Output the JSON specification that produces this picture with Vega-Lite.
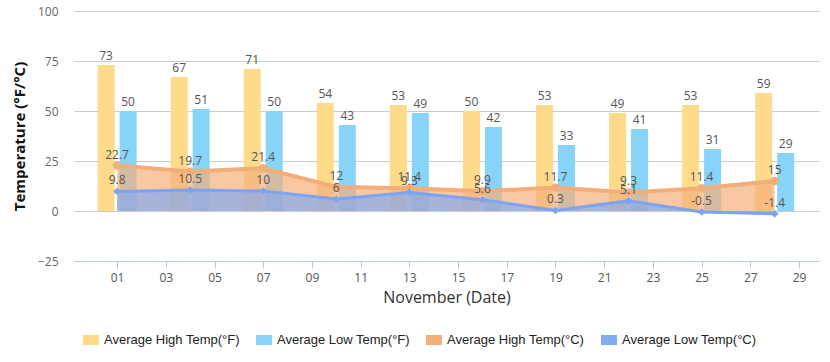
{
  "$schema": "https://vega.github.io/schema/vega-lite/v6.json",
  "autosize": {"type": "none"},
  "padding": {"left": 74, "top": 11, "right": 11, "bottom": 101},
  "width": 745,
  "height": 250,
  "background": "white",
  "config": {
    "view": {"stroke": null},
    "font": "Open Sans",
    "axis": {"labelFont": "Open Sans", "titleFont": "Open Sans"},
    "axisY": {
      "titleFontSize": 15, "titleFontWeight": "bold", "titleColor": "#111", "titlePadding": 10,
      "domain": false, "ticks": false, "gridColor": "#cccccc",
      "labelColor": "#666", "labelFontSize": 12, "labelPadding": 16
    }
  },
  "data": {
    "values": [
      {"day": 1, "highF": 73, "lowF": 50, "highC": 22.7, "lowC": 9.8},
      {"day": 4, "highF": 67, "lowF": 51, "highC": 19.7, "lowC": 10.5},
      {"day": 7, "highF": 71, "lowF": 50, "highC": 21.4, "lowC": 10},
      {"day": 10, "highF": 54, "lowF": 43, "highC": 12, "lowC": 6},
      {"day": 13, "highF": 53, "lowF": 49, "highC": 11.4, "lowC": 9.3},
      {"day": 16, "highF": 50, "lowF": 42, "highC": 9.9, "lowC": 5.6},
      {"day": 19, "highF": 53, "lowF": 33, "highC": 11.7, "lowC": 0.3},
      {"day": 22, "highF": 49, "lowF": 41, "highC": 9.3, "lowC": 5.1},
      {"day": 25, "highF": 53, "lowF": 31, "highC": 11.4, "lowC": -0.5},
      {"day": 28, "highF": 59, "lowF": 29, "highC": 15, "lowC": -1.4}
    ]
  },
  "encoding": {
    "x": {
      "field": "day", "type": "quantitative",
      "scale": {"domain": [-0.77, 29.82], "nice": false, "zero": false, "padding": 0},
      "axis": {
        "title": "November (Date)", "titleFontSize": 16, "titleFontWeight": "normal", "titleColor": "#333", "titlePadding": 6,
        "values": [1,3,5,7,9,11,13,15,17,19,21,23,25,27,29],
        "labelExpr": "datum.value < 10 ? '0' + datum.value : '' + datum.value",
        "grid": false, "domainColor": "#b8c8da", "tickColor": "#b8c8da", "tickSize": 7,
        "labelColor": "#555", "labelFontSize": 12, "labelPadding": 4
      }
    }
  },
  "layer": [
    {
      "mark": {"type": "bar", "width": 17, "xOffset": -11},
      "encoding": {
        "y": {
          "field": "highF", "type": "quantitative", "title": "Temperature (°F/°C)",
          "scale": {"domain": [-25, 100], "nice": false},
          "axis": {"values": [-25, 0, 25, 50, 75, 100]}
        },
        "y2": {"datum": 0},
        "color": {
          "datum": "Average High Temp(°F)",
          "scale": {
            "domain": ["Average High Temp(°F)", "Average Low Temp(°F)", "Average High Temp(°C)", "Average Low Temp(°C)"],
            "range": ["#fddb8b", "#88d3f8", "#f4b07c", "#84aaf0"]
          },
          "legend": {
            "title": null, "orient": "none", "direction": "horizontal", "legendX": 9, "legendY": 321,
            "symbolType": "M-1,-0.625H1V0.625H-1Z", "symbolSize": 256, "symbolStrokeWidth": 0, "symbolOpacity": 1,
            "labelFont": "Liberation Sans", "labelFontSize": 13, "labelColor": "#222", "labelOffset": 5,
            "columnPadding": 16
          }
        }
      }
    },
    {
      "mark": {"type": "bar", "width": 17, "xOffset": 11},
      "encoding": {
        "y": {"field": "lowF", "type": "quantitative", "title": "Temperature (°F/°C)"},
        "y2": {"datum": 0},
        "color": {"datum": "Average Low Temp(°F)"}
      }
    },
    {
      "mark": {"type": "text", "xOffset": -11, "dy": -9, "fontSize": 12, "color": "#555", "font": "Open Sans"},
      "encoding": {
        "y": {"field": "highF", "type": "quantitative", "title": "Temperature (°F/°C)"},
        "text": {"field": "highF"}
      }
    },
    {
      "mark": {"type": "text", "xOffset": 11, "dy": -9, "fontSize": 12, "color": "#555", "font": "Open Sans"},
      "encoding": {
        "y": {"field": "lowF", "type": "quantitative", "title": "Temperature (°F/°C)"},
        "text": {"field": "lowF"}
      }
    },
    {
      "mark": {"type": "area", "fillOpacity": 0.7},
      "encoding": {
        "y": {"field": "highC", "type": "quantitative", "title": "Temperature (°F/°C)"},
        "y2": {"datum": 0},
        "color": {"datum": "Average High Temp(°C)"}
      }
    },
    {
      "mark": {"type": "area", "fillOpacity": 0.7},
      "encoding": {
        "y": {"field": "lowC", "type": "quantitative", "title": "Temperature (°F/°C)"},
        "y2": {"datum": 0},
        "color": {"datum": "Average Low Temp(°C)"}
      }
    },
    {
      "mark": {"type": "line", "color": "#f2ad79", "strokeWidth": 4, "point": {"filled": true, "size": 70, "color": "#f2ad79"}},
      "encoding": {
        "y": {"field": "highC", "type": "quantitative", "title": "Temperature (°F/°C)"}
      }
    },
    {
      "mark": {"type": "line", "color": "#7ca4f0", "strokeWidth": 3, "point": {"filled": true, "shape": "diamond", "size": 60, "color": "#7ca4f0"}},
      "encoding": {
        "y": {"field": "lowC", "type": "quantitative", "title": "Temperature (°F/°C)"}
      }
    },
    {
      "mark": {"type": "text", "dy": -11, "fontSize": 12, "color": "#555", "font": "Open Sans"},
      "encoding": {
        "y": {"field": "highC", "type": "quantitative", "title": "Temperature (°F/°C)"},
        "text": {"field": "highC"}
      }
    },
    {
      "mark": {"type": "text", "dy": -11, "fontSize": 12, "color": "#555", "font": "Open Sans"},
      "encoding": {
        "y": {"field": "lowC", "type": "quantitative", "title": "Temperature (°F/°C)"},
        "text": {"field": "lowC"}
      }
    }
  ]
}
